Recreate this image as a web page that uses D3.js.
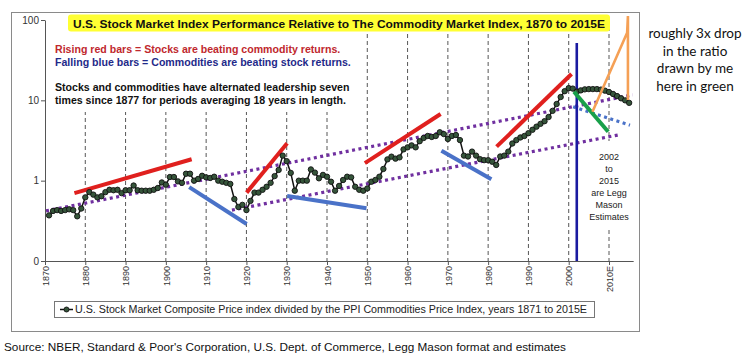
<!DOCTYPE html>
<html><head><meta charset="utf-8">
<script src="https://cdn.jsdelivr.net/npm/d3@7"></script>
<style>body{margin:0;background:#fff}svg{display:block}</style>
</head><body><svg id="c" width="755" height="356"></svg>
<script>
const startYear = 1871;
const ratio = [
 0.37,0.42,0.43,0.42,0.43,0.44,0.43,0.36,0.45,0.62,
 0.72,0.67,0.62,0.64,0.72,0.77,0.76,0.77,0.70,0.76,
 0.76,0.87,0.76,0.75,0.75,0.75,0.77,0.81,0.95,0.89,
 1.11,1.11,0.98,0.94,1.22,1.22,1.00,1.05,1.15,1.10,
 1.08,1.12,1.00,0.97,0.94,0.91,0.59,0.47,0.50,0.43,
 0.56,0.71,0.71,0.77,0.84,0.94,1.14,1.36,2.05,1.75,
 1.25,0.75,1.00,1.00,1.00,1.38,1.26,1.07,1.18,1.12,
 0.97,0.75,0.86,1.02,1.12,1.10,0.84,0.77,0.75,0.80,
 0.97,1.02,1.12,1.40,1.84,1.99,1.88,1.95,2.45,2.60,
 2.75,2.60,3.10,3.40,3.60,3.50,3.60,4.00,3.80,3.30,
 3.60,3.70,3.20,2.05,2.00,2.30,2.05,1.85,1.80,1.80,
 1.72,1.57,2.00,2.05,2.30,2.90,3.20,3.45,3.60,3.90,
 4.30,4.70,5.10,5.50,6.20,7.40,9.00,11.0,13.0,14.2,
 14.0,12.8,13.3,13.7,13.8,13.8,13.8,13.6,13.2,12.7,
 12.0,11.3,10.6,10.0,9.3
];
const years = ratio.map((d, i) => startYear + i);

const yTicks = [0.1, 1, 10, 100];
const yTickLabels = ["0", "1", "10", "100"];
const xTicks = [1870,1880,1890,1900,1910,1920,1930,1940,1950,1960,1970,1980,1990,2000,2010];
const xTickLabels = ["1870","1880","1890","1900","1910","1920","1930","1940","1950","1960","1970","1980","1990","2000","2010E"];
const gridYears = [1880,1890,1900,1910,1920,1930,1940,1950,1960,1970,1980,1990,2000,2010];

const redBars = [
 [[1877.3,0.70],[1906.4,1.85]],
 [[1920.05,0.71],[1930.1,2.92]],
 [[1949.4,1.65],[1968.2,6.76]],
 [[1982.1,2.65],[2000.7,21.3]]
];
const blueBars = [
 [[1905.8,0.83],[1920.05,0.289]],
 [[1930.1,0.645],[1949.8,0.453]],
 [[1968.4,2.36],[1980.8,1.04]]
];
const purpleDotted = [
 [[1870.25,0.42],[2015.9,11.7]],
 [[1916.4,0.43],[2012.2,3.7]]
];
const blueDotted = [[[2001.1,8.3],[2015.2,4.9]]];
const greenLine = [[2001.3,12.8],[2009.8,4.07]];
const orangeLine = [[2005.9,7.2],[2014.5,69.5],[2014.7,112],[2014.7,10.1]];
const estimateStart = [[2002,51.7],[2002,0.1]];

const titleText = "U.S. Stock Market Index Performance Relative to The Commodity Market Index, 1870 to 2015E";
const noteRed = "Rising red bars = Stocks are beating commodity returns.";
const noteBlue = "Falling blue bars = Commodities are beating stock returns.";
const noteBlack = ["Stocks and commodities have alternated leadership seven","times since 1877 for periods averaging 18 years in length."];
const estNote = ["2002","to","2015","are Legg","Mason","Estimates"];
const sideNote = ["roughly 3x drop","in the ratio","drawn by me","here in green"];
const legendText = "U.S. Stock Market Composite Price index divided by the PPI Commodities Price Index, years 1871 to 2015E";
const sourceText = "Source: NBER, Standard & Poor's Corporation, U.S. Dept. of Commerce, Legg Mason format and estimates";

const svg = d3.select("#c");
const F = "'Liberation Sans', Arial, sans-serif";

const x = d3.scaleLinear().domain([1870, 2016]).range([45, 45 + 146 * 4.0286]);
const y = d3.scaleLog().domain([0.1, 100]).range([261, 20]);

// outer frame
svg.append("rect").attr("x", 11.5).attr("y", 12.5).attr("width", 628).attr("height", 319)
  .attr("fill", "none").attr("stroke", "#8a8a8a").attr("stroke-width", 1);

// grid lines
svg.append("g").selectAll("line").data(gridYears).join("line")
  .attr("x1", d => x(d)).attr("x2", d => x(d))
  .attr("y1", y(100)).attr("y2", y(0.1))
  .attr("stroke", "#444").attr("stroke-width", 0.9).attr("stroke-dasharray", "4,3");

// axes
const ya = svg.append("g").attr("transform", "translate(45,0)")
  .call(d3.axisLeft(y).tickValues(yTicks).tickFormat((d, i) => yTickLabels[i]).tickSize(4).tickSizeOuter(0));
ya.select(".domain").attr("stroke", "#555");
ya.selectAll(".tick line").attr("stroke", "#555");
ya.selectAll("text").attr("font-family", F).attr("font-size", 10).attr("fill", "#333").attr("x", -6);

const xa = svg.append("g").attr("transform", "translate(0,261)")
  .call(d3.axisBottom(x).tickValues(xTicks).tickFormat((d, i) => xTickLabels[i]).tickSize(4).tickSizeOuter(0));
xa.select(".domain").attr("stroke", "#555");
xa.selectAll(".tick line").attr("stroke", "#555");
xa.selectAll("text").attr("font-family", F).attr("font-size", 9).attr("fill", "#333")
  .attr("transform", "rotate(-90)").attr("text-anchor", "end")
  .attr("x", -5).attr("y", 0).attr("dy", "0.35em");

// title
svg.append("rect").attr("x", 68).attr("y", 14.5).attr("width", 542).attr("height", 17).attr("rx", 3)
  .attr("fill", "#ffff33");
svg.append("text").attr("x", 73).attr("y", 27.5)
  .attr("font-family", F).attr("font-size", 11.8).attr("font-weight", "bold").attr("fill", "#111")
  .attr("textLength", 532).attr("lengthAdjust", "spacingAndGlyphs")
  .text(titleText);

// note box
svg.append("rect").attr("x", 50).attr("y", 32).attr("width", 314).attr("height", 80).attr("fill", "#fff");
svg.append("text").attr("x", 55).attr("y", 53).attr("font-family", F).attr("font-size", 10.6)
  .attr("font-weight", "bold").attr("fill", "#c0282d").text(noteRed);
svg.append("text").attr("x", 55).attr("y", 66).attr("font-family", F).attr("font-size", 10.6)
  .attr("font-weight", "bold").attr("fill", "#1f2a8a").text(noteBlue);
noteBlack.forEach((t, i) => {
  svg.append("text").attr("x", 55).attr("y", 91 + i * 12.5).attr("font-family", F).attr("font-size", 10.6)
    .attr("font-weight", "bold").attr("fill", "#111").text(t);
});

// estimate note box
svg.append("rect").attr("x", x(2010) - 19).attr("y", 141).attr("width", 38).attr("height", 88).attr("fill", "#fff");
estNote.forEach((t, i) => {
  svg.append("text").attr("x", x(2010)).attr("y", 160 + i * 12).attr("text-anchor", "middle")
    .attr("font-family", F).attr("font-size", 9).attr("fill", "#222").text(t);
});

const line = d3.line().x(d => x(d[0])).y(d => y(d[1]));

// purple dotted trend
svg.append("g").selectAll("path").data(purpleDotted).join("path").attr("d", line)
  .attr("fill", "none").attr("stroke", "#7030a0").attr("stroke-width", 3.2).attr("stroke-dasharray", "3,3.5");
svg.append("g").selectAll("path").data(blueDotted).join("path").attr("d", line)
  .attr("fill", "none").attr("stroke", "#4a72c8").attr("stroke-width", 3.2).attr("stroke-dasharray", "3,3.5");

// red / blue bars
svg.append("g").selectAll("path").data(redBars).join("path").attr("d", line)
  .attr("fill", "none").attr("stroke", "#e0201e").attr("stroke-width", 4);
svg.append("g").selectAll("path").data(blueBars).join("path").attr("d", line)
  .attr("fill", "none").attr("stroke", "#4a72c8").attr("stroke-width", 4);

// blue vertical
svg.append("path").datum(estimateStart).attr("d", line)
  .attr("stroke", "#1a1aa0").attr("stroke-width", 2.6).attr("fill", "none");

// data series
const pts = years.map((yr, i) => [yr, ratio[i]]);
svg.append("path").datum(pts).attr("d", line).attr("fill", "none").attr("stroke", "#111").attr("stroke-width", 1.5);
svg.append("g").selectAll("circle").data(pts).join("circle")
  .attr("cx", d => x(d[0])).attr("cy", d => y(d[1])).attr("r", 2.7)
  .attr("fill", "#35553a").attr("stroke", "#111").attr("stroke-width", 0.9);

// green and orange
svg.append("path").datum(greenLine).attr("d", line).attr("fill", "none")
  .attr("stroke", "#19a04a").attr("stroke-width", 4);
svg.append("path").datum(orangeLine).attr("d", line).attr("fill", "none")
  .attr("stroke", "#f5a055").attr("stroke-width", 2.6).attr("stroke-linejoin", "miter");

// side note
sideNote.forEach((t, i) => {
  svg.append("text").attr("x", 695).attr("y", 38 + i * 17.5).attr("text-anchor", "middle")
    .attr("font-family", "Lato, 'Open Sans', sans-serif").attr("font-size", 13.5).attr("fill", "#111").text(t);
});

// legend
svg.append("rect").attr("x", 54.5).attr("y", 301.5).attr("width", 540).attr("height", 16)
  .attr("fill", "#fff").attr("stroke", "#777").attr("stroke-width", 1);
svg.append("line").attr("x1", 60).attr("x2", 73).attr("y1", 309.5).attr("y2", 309.5)
  .attr("stroke", "#111").attr("stroke-width", 1.5);
svg.append("circle").attr("cx", 66.5).attr("cy", 309.5).attr("r", 2.5)
  .attr("fill", "#35553a").attr("stroke", "#111").attr("stroke-width", 0.9);
svg.append("text").attr("x", 75).attr("y", 313).attr("font-family", F).attr("font-size", 10)
  .attr("fill", "#222").attr("textLength", 512).attr("lengthAdjust", "spacingAndGlyphs").text(legendText);

// source
svg.append("text").attr("x", 4).attr("y", 351).attr("font-family", F).attr("font-size", 10.5)
  .attr("fill", "#111").attr("textLength", 562).attr("lengthAdjust", "spacingAndGlyphs").text(sourceText);
</script></body></html>
